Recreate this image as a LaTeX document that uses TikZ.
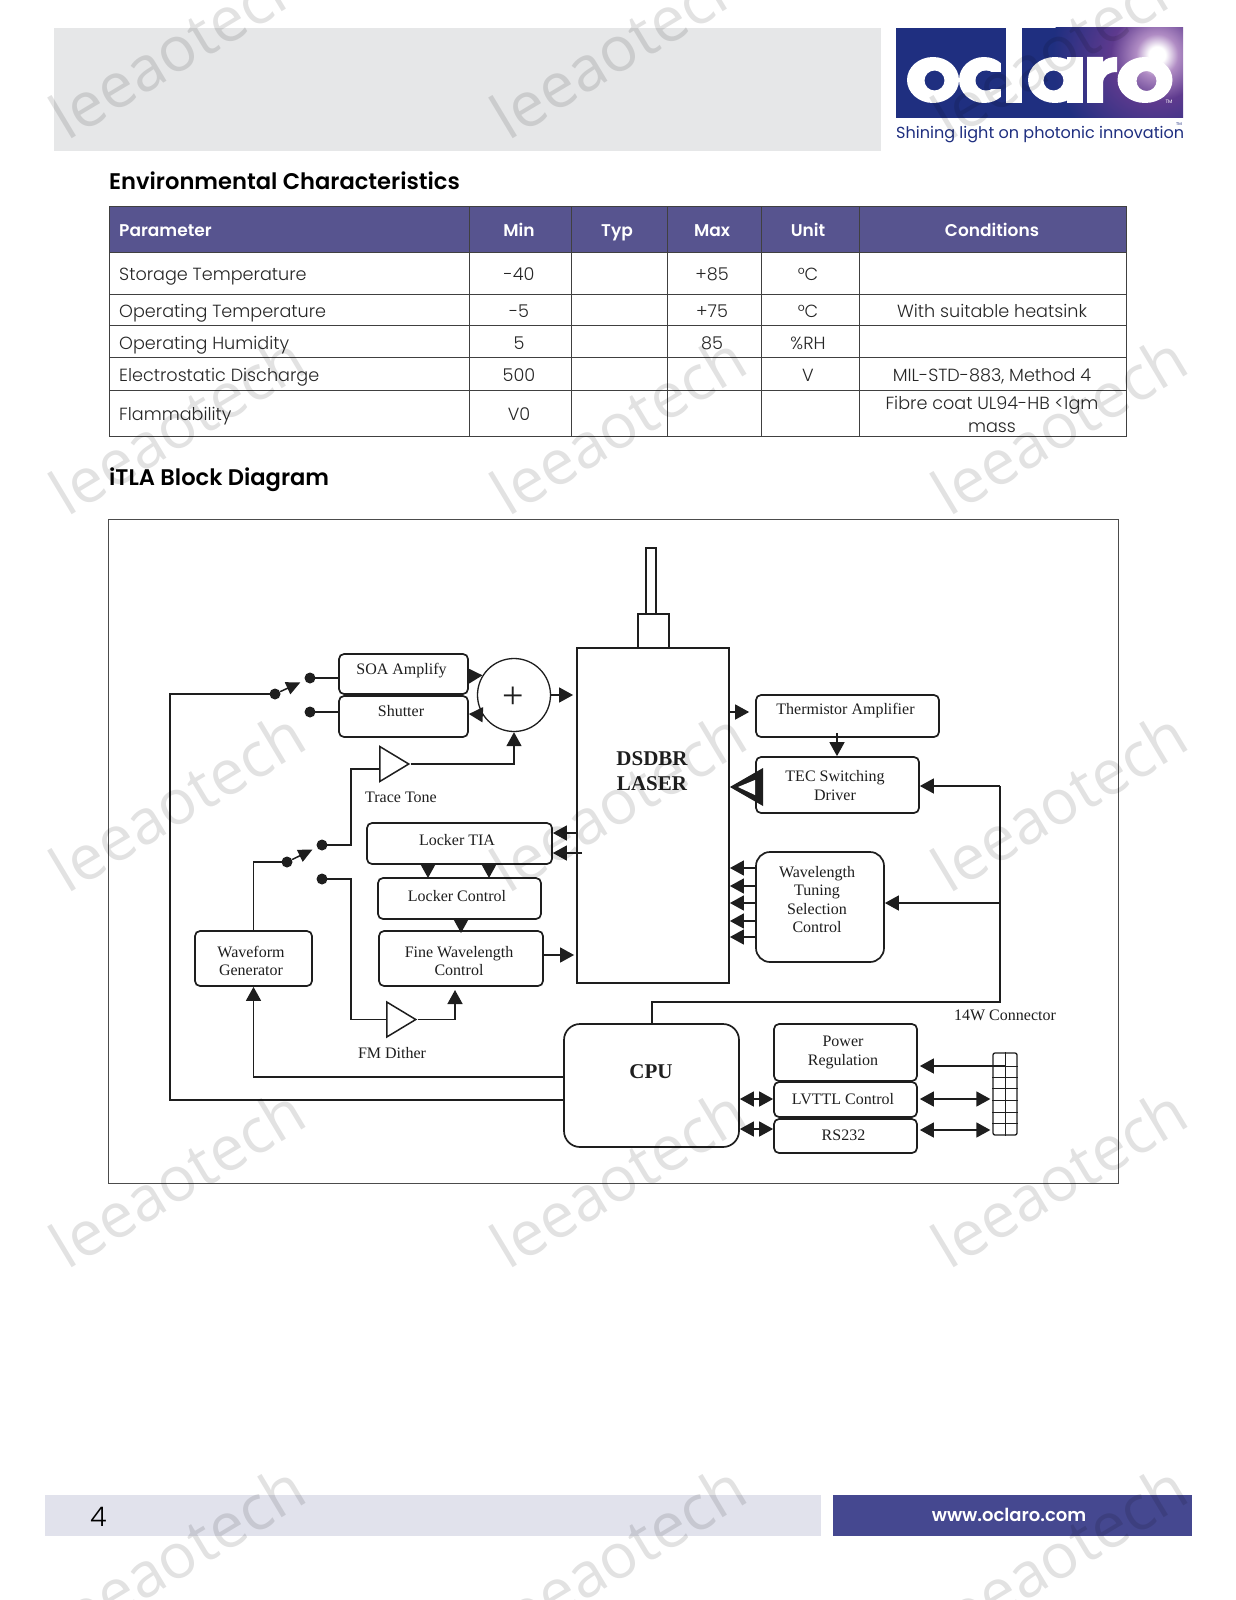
\documentclass[tikz,border=0pt]{standalone}
\usepackage{fontspec}
\setmainfont{Liberation Serif}
\newfontfamily\gothic[UprightFont=* Light,BoldFont=* SemiBold]{Poppins}
\newfontfamily\gothicr{Poppins}
\newfontfamily\wmfont{Open Sans}
\usetikzlibrary{arrows.meta,shapes.geometric,calc}
\definecolor{hdr}{HTML}{57548F}
\definecolor{inkc}{HTML}{1E1E1E}
\definecolor{logob}{HTML}{1F2F80}
\definecolor{footb}{HTML}{454890}
\definecolor{footl}{HTML}{E1E2EC}
\definecolor{headg}{HTML}{E6E7E8}
\definecolor{glareA}{HTML}{B08CC4}
\definecolor{glareB}{HTML}{5E3A8E}
\pgfdeclareradialshading{glare}{\pgfpoint{0bp}{0bp}}{
 color(0bp)=(white); color(2bp)=(white); color(5bp)=(glareA); color(11bp)=(glareB); color(25bp)=(logob); color(50bp)=(logob)}
\tikzset{
 blk/.style={draw=inkc,line width=1.7pt,rounded corners=5pt,inner sep=0pt},
 sharp/.style={draw=inkc,line width=1.8pt,inner sep=0pt},
 lbl/.style={text=inkc,inner sep=0pt,align=center,font=\fontsize{16}{18.3}\selectfont},
 blbl/.style={text=inkc,inner sep=0pt,align=center,font=\fontsize{21}{24.5}\selectfont\bfseries},
 conn/.style={draw=inkc,line width=1.5pt,line join=miter},
 arr/.style={conn,-{Triangle[length=14pt,width=15pt]}},
 arrb/.style={conn,{Triangle[length=14pt,width=15pt]}-{Triangle[length=14pt,width=15pt]}},
 swarr/.style={conn,-{Triangle[length=14pt,width=13pt]},shorten >=5pt},
 sdot/.style={circle,fill=inkc,inner sep=0pt,minimum size=11pt},
 amp/.style={isosceles triangle,isosceles triangle stretches,shape border rotate=0,draw=inkc,line width=1.5pt,inner sep=0pt,minimum height=29pt,minimum width=35pt,anchor=lower side},
 tcell/.style={inner sep=0pt,text=black!85,text height=13pt,text depth=0pt,font=\gothic\fontsize{17.6}{22.5}\selectfont,align=center},
 thead/.style={inner sep=0pt,text=white,text height=13pt,text depth=0pt,font=\gothic\bfseries\fontsize{17}{22}\selectfont},
 title/.style={inner sep=0pt,anchor=west,text=black,text height=16pt,text depth=0pt,font=\gothic\bfseries\fontsize{22.6}{28}\selectfont},
 tline/.style={draw=black!75,line width=1pt},
 wm/.style={inner sep=0pt,rotate=31,text=black,text opacity=0.115,font=\wmfont\fontsize{62.5}{66}\selectfont},
}
\begin{document}
\begin{tikzpicture}[x=1pt,y=-1pt]
\useasboundingbox (0,0) rectangle (1236,1600);
\fill[white] (0,0) rectangle (1236,1600);
% header
\fill[headg] (54,28) rectangle (881,151);
% logo
\begin{scope}
\clip (896,28) rectangle (1183,118);
\fill[logob] (896,28) rectangle (1183,118);
\shade[shading=glare] (1157,55) circle (105);
\fill[white,even odd rule] (933,80) ellipse [x radius=26,y radius=23] (934.5,80.5) ellipse [x radius=10,y radius=10];
\fill[white] (984,80) ellipse [x radius=25,y radius=23];
\fill[logob] (986,80.5) ellipse [x radius=10.5,y radius=10];
\fill[logob] (986,72) rectangle (1006,89);
\fill[logob] (1001,50) rectangle (1006,110);
\fill[white] (1006,28) rectangle (1022,103);
\fill[white,even odd rule] (1055,80) ellipse [x radius=27,y radius=23] (1053.5,80.5) ellipse [x radius=10,y radius=10];
\fill[white] (1067,57) rectangle (1083,103);
\fill[white] (1087,103) -- (1087,57) -- (1103,57) -- (1103,62) .. controls (1106,58) and (1111,57) .. (1117,57) -- (1117,72) .. controls (1109,72) and (1103,75) .. (1103,84) -- (1103,103) -- cycle;
\fill[white,even odd rule] (1145,80) ellipse [x radius=27.5,y radius=23] (1146.5,81) ellipse [x radius=10,y radius=10];
\node[inner sep=0pt,text=white,font=\gothicr\fontsize{5}{6}\selectfont] (tm1) at (1169,102) {TM};
\end{scope}
\node[inner sep=0pt,anchor=west,text=logob,text height=13pt,text depth=0pt,font=\gothicr\fontsize{16.05}{20}\selectfont] (tagline) at (896,132.5) {Shining light on photonic innovation};
\node[inner sep=0pt,text=logob,font=\gothicr\fontsize{4}{5}\selectfont] (tm2) at (1179,124) {TM};
% headings
\node[title] (t1) at (109,181) {Environmental Characteristics};
\node[title] (t2) at (109,477) {iTLA Block Diagram};
% table
\fill[hdr] (109,206) rectangle (1126.5,252);
\foreach \yy in {206,252,294,325,357,390,436} \draw[tline] (109,\yy) -- (1126.5,\yy);
\foreach \xx in {109,469,571,667,761,859,1126.5} \draw[tline] (\xx,206) -- (\xx,436);
\node[thead,anchor=west] (h1) at (119,230) {Parameter};
\node[thead] (h2) at (519,230) {Min};
\node[thead] (h3) at (617,230) {Typ};
\node[thead] (h4) at (712,230) {Max};
\node[thead] (h5) at (808,230) {Unit};
\node[thead] (h6) at (992,230) {Conditions};
\node[tcell,anchor=west] (r1) at (119,273.5) {Storage Temperature};
\node[tcell] (r1a) at (519,273.5) {-40};
\node[tcell] (r1b) at (712,273.5) {+85};
\node[tcell] (r1c) at (808,273.5) {°C};
\node[tcell,anchor=west] (r2) at (119,310.5) {Operating Temperature};
\node[tcell] (r2a) at (519,310.5) {-5};
\node[tcell] (r2b) at (712,310.5) {+75};
\node[tcell] (r2c) at (808,310.5) {°C};
\node[tcell] (r2d) at (992,310.5) {With suitable heatsink};
\node[tcell,anchor=west] (r3) at (119,342.5) {Operating Humidity};
\node[tcell] (r3a) at (519,342.5) {5};
\node[tcell] (r3b) at (712,342.5) {85};
\node[tcell] (r3c) at (808,342.5) {\%RH};
\node[tcell,anchor=west] (r4) at (119,374.5) {Electrostatic Discharge};
\node[tcell] (r4a) at (519,374.5) {500};
\node[tcell] (r4c) at (808,374.5) {V};
\node[tcell] (r4d) at (992,374.5) {MIL-STD-883, Method 4};
\node[tcell,anchor=west] (r5) at (119,413.5) {Flammability};
\node[tcell] (r5a) at (519,413.5) {V0};
\node[tcell] (r5d) at (992,425.5) {Fibre coat UL94-HB <1gm\\mass};
% diagram frame
\node[draw=black!70,line width=1pt,inner sep=0pt,minimum width=1010.5pt,minimum height=664pt] (frame) at (613.5,851) {};
% laser
\node[sharp,minimum width=152pt,minimum height=335pt,fill=white] (dsdbr) at (653,815.5) {};
\node[sharp,minimum width=31pt,minimum height=34pt] (stub) at (653.5,631) {};
\node[sharp,minimum width=10pt,minimum height=66pt] (fiber) at (651,581) {};
\node[blbl] (dsdbrl) at (652,771) {DSDBR\\LASER};
% blocks
\node[blk,minimum width=129pt,minimum height=40pt] (soa) at (403.5,674) {};
\node[lbl] (soal) at (401.5,671) {SOA Amplify};
\node[blk,minimum width=129pt,minimum height=41pt] (shutter) at (403.5,716.5) {};
\node[lbl] (shutterl) at (401,711.5) {Shutter};
\node[draw=inkc,line width=1.3pt,circle,inner sep=0pt,minimum size=73pt] (sum) at (514,695) {};
\node[text=inkc,inner sep=0pt,font=\fontsize{38}{38}\selectfont] (plus) at (513.5,698) {+};
\node[amp] (tt) at (379,764) {};
\node[lbl] (ttl) at (401,797) {Trace Tone};
\node[blk,minimum width=185pt,minimum height=41pt] (tia) at (459.5,843.5) {};
\node[lbl] (tial) at (457,840) {Locker TIA};
\node[blk,minimum width=163pt,minimum height=41pt] (lockc) at (459.5,898.5) {};
\node[lbl] (lockcl) at (457,896) {Locker Control};
\node[blk,minimum width=164pt,minimum height=55pt] (fine) at (461,958.5) {};
\node[lbl] (finel) at (459,961) {Fine Wavelength\\Control};
\node[blk,minimum width=117pt,minimum height=55pt] (wave) at (253.5,958.5) {};
\node[lbl] (wavel) at (251,961) {Waveform\\Generator};
\node[amp] (fm) at (386,1019.5) {};
\node[lbl] (fml) at (392,1053) {FM Dither};
\node[blk,minimum width=183pt,minimum height=42pt] (therm) at (847.5,716) {};
\node[lbl] (therml) at (845.5,711) {Thermistor Amplifier};
\node[blk,minimum width=163pt,minimum height=56pt] (tec) at (837.5,785) {};
\node[lbl] (tecl) at (835,785.5) {TEC Switching\\Driver};
\node[blk,rounded corners=14pt,minimum width=128pt,minimum height=110pt] (wlen) at (820,907) {};
\node[lbl] (wlenl) at (817,899.5) {Wavelength\\Tuning\\Selection\\Control};
\node[blk,rounded corners=16pt,minimum width=175pt,minimum height=123pt] (cpu) at (651.5,1085.5) {};
\node[blbl] (cpul) at (651,1072) {CPU};
\node[blk,minimum width=143pt,minimum height=57pt] (power) at (845.5,1052.5) {};
\node[lbl] (powerl) at (843,1052.5) {Power\\Regulation};
\node[blk,minimum width=143pt,minimum height=35pt] (lvttl) at (845.5,1099.5) {};
\node[lbl] (lvttll) at (843,1099) {LVTTL Control};
\node[blk,minimum width=143pt,minimum height=34pt] (rs) at (845.5,1136) {};
\node[lbl] (rsl) at (843.5,1135) {RS232};
\node[lbl] (conl) at (1005,1015) {14W Connector};
\node[draw=inkc,line width=1.3pt,rounded corners=2pt,inner sep=0pt,minimum width=24pt,minimum height=82pt] (jack) at (1005,1094) {};
\foreach \yy in {1066,1077,1088,1100,1112,1123} \draw[line width=1pt,draw=inkc] (jack.west |- 0,\yy) -- (jack.east |- 0,\yy);
\draw[line width=1pt,draw=inkc] (jack.north) -- (jack.south);
% switches
\node[sdot] (s1a) at (275,694) {};
\node[sdot] (s1b) at (310,678) {};
\node[sdot] (s1c) at (310,712) {};
\node[sdot] (s2a) at (287,862) {};
\node[sdot] (s2b) at (322,845) {};
\node[sdot] (s2c) at (322,879) {};
\draw[swarr] (s1a) -- (s1b);
\draw[swarr] (s2a) -- (s2b);
\draw[conn] (s1b.center) -- (soa.west |- s1b);
\draw[conn] (s1c.center) -- (shutter.west |- s1c);
\draw[conn] (s1a.center) -- (170,694) -- (170,1100) -- (cpu.west |- 0,1100);
% sum connections
\draw[arr] (soa.east |- 0,676) -- (sum.148);
\draw[arr] (sum.212) -- (shutter.east |- 0,714);
\draw[arr,shorten >=3pt] (sum.east) -- (dsdbr.west |- sum.east);
\draw[arr] (tt.apex) -| (sum.south);
\draw[conn] (s2b.center) -- (351,845) -- (351,769) -- (tt.lower side |- 0,769);
\draw[conn] (s2c.center) -- (351,879) -- (351,1019.5) -- (fm.lower side);
\draw[arr] (fm.apex) -| (455,990);
\draw[conn] (s2a.center) -| (wave.north);
\draw[arr] (cpu.west |- 0,1077) -| (wave.south);
% locker
\draw[arr] (428,864) -- (428,878);
\draw[arr] (489,864) -- (489,878);
\draw[arr] (lockc.south -| 461,0) -- (461,933);
\draw[arr,shorten >=2pt] (fine.east |- 0,955) -- (dsdbr.west |- 0,955);
\draw[arr] (dsdbr.west |- 0,833) -- (tia.east |- 0,833);
\draw[arr] (582,853) -- (tia.east |- 0,853);
% right side
\draw[arr,shorten >=6pt] (dsdbr.east |- 0,712) -- (therm.west |- 0,712);
\draw[arr] (837,733) -- (tec.north -| 837,0);
\fill[inkc] (dsdbr.east |- 0,787) -- (763,768) -- (763,806) -- cycle;
\fill[white] (738,787) -- (755,780) -- (755,795) -- cycle;
\foreach \yy in {868,886,903,921,937} \draw[arr] (wlen.west |- 0,\yy) -- (dsdbr.east |- 0,\yy);
\draw[conn] (cpu.north -| 652,0) -- (652,1002) -- (1000,1002) -- (1000,786);
\draw[arr] (1000,786) -- (tec.east |- 0,786);
\draw[arr] (1000,903) -- (wlen.east |- 0,903);
% bottom
\draw[arr,shorten >=2pt] (jack.center |- 0,1066) -- (power.east |- 0,1066);
\draw[arrb,shorten <=2pt,shorten >=2pt] (lvttl.east |- 0,1099) -- (jack.west |- 0,1099);
\draw[arrb,shorten <=2pt,shorten >=2pt] (rs.east |- 0,1130) -- (jack.west |- 0,1130);
\draw[arrb] (cpu.east |- 0,1099) -- (lvttl.west |- 0,1099);
\draw[arrb] (cpu.east |- 0,1129) -- (rs.west |- 0,1129);
% footer
\fill[footl] (45,1495) rectangle (821,1536);
\fill[footb] (832.5,1495) rectangle (1192,1536);
\node[inner sep=0pt,text=black,font=\gothic\fontsize{27}{30}\selectfont] (pg) at (98.5,1517) {4};
\node[inner sep=0pt,text=white,font=\gothic\bfseries\fontsize{18}{22}\selectfont] (url) at (1009,1515) {www.oclaro.com};
% watermarks
\foreach \c/\cx in {1/177,2/618,3/1059}
 \foreach \r/\ry in {1/48,2/424.5,3/801,4/1177.5,5/1554}
  \node[wm] (wm\c\r) at (\cx,\ry) {leeaotech};
\end{tikzpicture}
\end{document}
